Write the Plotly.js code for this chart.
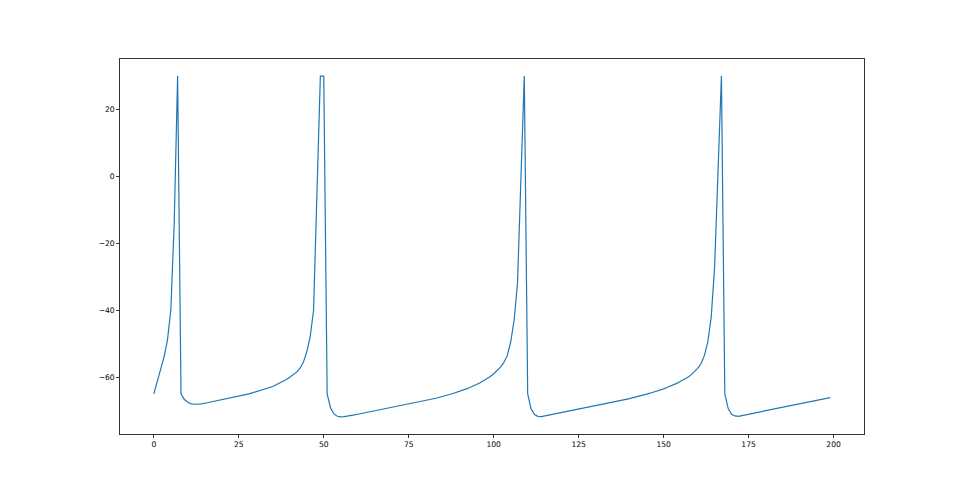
<!DOCTYPE html>
<html>
<head>
<meta charset="utf-8">
<script src="https://cdn.plot.ly/plotly-3.0.1.min.js"></script>
<style>
  html, body { margin: 0; padding: 0; background: #ffffff; }
  #chart { width: 960px; height: 488px; }
</style>
</head>
<body>
<div id="chart"></div>
<script>
// Membrane potential trace (time step index 0..199)
const time = Array.from({length: 200}, (_, i) => i);
const voltage = [
  -65, -61.5, -58, -54, -49, -40, -14, 30, -65, -66.7,
  -67.5, -68.0, -68.1, -68.1, -68.0, -67.8, -67.6, -67.4, -67.2, -67.0,
  -66.8, -66.6, -66.4, -66.2, -66.0, -65.7, -65.5, -65.2, -65.0, -64.7,
  -64.4, -64.1, -63.8, -63.5, -63.1, -62.8, -62.3, -61.8, -61.3, -60.7,
  -60.0, -59.3, -58.5, -57.4, -55.5, -52.5, -48, -40, -8, 30,
  30, -65, -69.2, -71.0, -71.7, -71.9, -71.8, -71.7, -71.5, -71.3,
  -71.1, -70.9, -70.7, -70.5, -70.3, -70.1, -69.9, -69.7, -69.5, -69.3,
  -69.1, -68.9, -68.7, -68.5, -68.3, -68.1, -67.9, -67.7, -67.5, -67.2,
  -67.0, -66.8, -66.5, -66.3, -66.0, -65.8, -65.5, -65.2, -64.9, -64.6,
  -64.3, -63.9, -63.5, -63.1, -62.7, -62.2, -61.7, -61.1, -60.5, -59.8,
  -59.0, -58.1, -57.0, -55.6, -53.5, -49.5, -43, -32, 2, 30,
  -65, -69.5, -71.2, -71.7, -71.8, -71.6, -71.4, -71.2, -71.0, -70.8,
  -70.6, -70.4, -70.2, -70.0, -69.8, -69.6, -69.4, -69.2, -68.9, -68.7,
  -68.5, -68.3, -68.1, -67.9, -67.7, -67.5, -67.3, -67.1, -66.9, -66.6,
  -66.4, -66.1, -65.9, -65.6, -65.4, -65.1, -64.8, -64.5, -64.3, -63.9,
  -63.5, -63.1, -62.7, -62.3, -61.8, -61.2, -60.7, -60.1, -59.4, -58.5,
  -57.4, -56.0, -53.5, -49.5, -42, -27, 5, 30, -65, -69.4,
  -71.1, -71.6, -71.7, -71.5, -71.3, -71.1, -70.9, -70.7, -70.5, -70.3,
  -70.1, -69.9, -69.6, -69.4, -69.1, -68.9, -68.7, -68.5, -68.3, -68.1,
  -67.9, -67.7, -67.5, -67.3, -67.1, -66.9, -66.7, -66.5, -66.3, -66.1
];
const xTicks = [0, 25, 50, 75, 100, 125, 150, 175, 200];
const yTicks = [-60, -40, -20, 0, 20];

// matplotlib-style 5% margins
const xmin = Math.min(...time), xmax = Math.max(...time);
const ymin = Math.min(...voltage), ymax = Math.max(...voltage);
const xpad = (xmax - xmin) * 0.05, ypad = (ymax - ymin) * 0.05;

const trace = {
  x: time, y: voltage, type: 'scatter', mode: 'lines',
  line: {color: '#1f77b4', width: 1.2},
  hoverinfo: 'skip'
};

const axisCommon = {
  showline: true, mirror: true, linecolor: '#000000', linewidth: 0.8,
  showgrid: false, zeroline: false,
  ticks: 'outside', ticklen: 3, tickwidth: 0.8, tickcolor: '#000000',
  tickfont: {family: 'DejaVu Sans', size: 7.6, color: '#000000'}
};

const layout = {
  width: 960, height: 488,
  margin: {l: 120, r: 96, t: 59, b: 54},
  paper_bgcolor: '#ffffff', plot_bgcolor: '#ffffff',
  showlegend: false,
  xaxis: Object.assign({}, axisCommon, {
    range: [xmin - xpad, xmax + xpad],
    tickmode: 'array', tickvals: xTicks, ticktext: xTicks.map(String)
  }),
  yaxis: Object.assign({}, axisCommon, {
    range: [ymin - ypad, ymax + ypad],
    tickmode: 'array', tickvals: yTicks,
    ticktext: yTicks.map(v => v < 0 ? '\u2212' + Math.abs(v) : String(v))
  })
};

Plotly.newPlot('chart', [trace], layout, {staticPlot: true, displayModeBar: false});
</script>
</body>
</html>
